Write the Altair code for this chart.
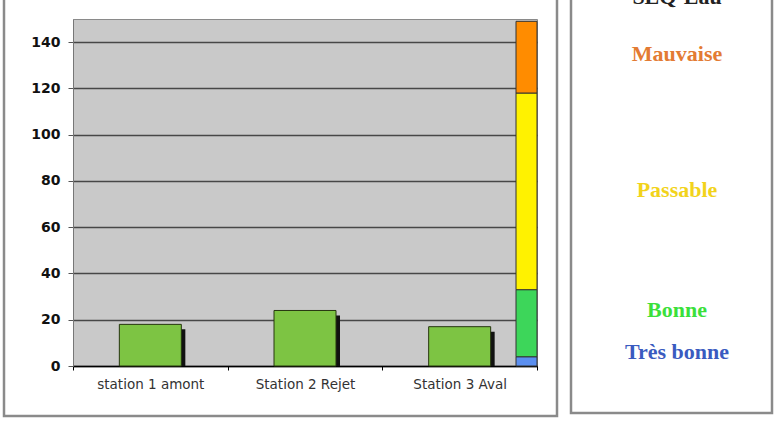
import altair as alt
import pandas as pd

# ---- data ----
stations = ["station 1 amont", "Station 2 Rejet", "Station 3 Aval"]
values = [18, 24, 17]

classes = ["Très bonne", "Bonne", "Passable", "Mauvaise"]
class_low = [0, 4, 33, 118]
class_high = [4, 33, 118, 149]
class_colors = ["#5B8FF0", "#3DD65A", "#FFF200", "#FF8C00"]

label_pos = [6, 24, 76, 135]
label_colors = ["#3A5BC0", "#3BE03B", "#F2D31B", "#E37B33"]

y_ticks = [0, 20, 40, 60, 80, 100, 120, 140]

bars_df = pd.DataFrame({"station": stations, "value": values})
classes_df = pd.DataFrame({"classe": classes, "low": class_low, "high": class_high, "color": class_colors})
labels_df = pd.DataFrame({"classe": classes, "pos": label_pos, "color": label_colors})
one = pd.DataFrame({"a": [0]})

x_enc = alt.X(
    "station:N", sort=stations,
    scale=alt.Scale(paddingInner=0, paddingOuter=0),
    axis=alt.Axis(title=None, labelAngle=0, tickBand="extent", tickSize=4, tickColor="#000",
                  domainColor="#000", domainWidth=1.5, labelFont="DejaVu Sans", labelFontSize=13.5,
                  labelColor="#333", labelPadding=7, grid=False),
)
y_scale = alt.Scale(domain=[0, 150], nice=False)
y_enc = alt.Y(
    "value:Q", scale=y_scale,
    axis=alt.Axis(title=None, values=y_ticks, grid=True, gridColor="#474747", gridWidth=1.6,
                  labelFont="DejaVu Sans", labelFontWeight="bold", labelFontSize=14, labelColor="#111",
                  tickSize=5, tickColor="#555", domainColor="#777", labelPadding=8),
)

base = alt.Chart(bars_df)
shadow = base.mark_bar(size=62, color="#111111", xOffset=4, yOffset=5).encode(
    x=x_enc, y=y_enc, y2=alt.datum(0)
)
bars = base.mark_bar(size=62, color="#7DC443", stroke="#26360f", strokeWidth=1).encode(
    x=x_enc, y=y_enc, y2=alt.datum(0)
)

scale_bar = alt.Chart(classes_df).mark_rect(stroke="#333", strokeWidth=1).encode(
    x=alt.value(443), x2=alt.value(464),
    y=alt.Y("low:Q", scale=y_scale), y2="high:Q",
    fill=alt.Color("color:N", scale=None),
)

labels = alt.Chart(labels_df).mark_text(
    font="Liberation Serif", fontWeight="bold", fontSize=22, align="center", baseline="middle"
).encode(
    x=alt.value(604), y=alt.Y("pos:Q", scale=y_scale), text="classe:N",
    color=alt.Color("color:N", scale=None),
)

title_right = alt.Chart(one).mark_text(
    font="Liberation Serif", fontWeight="bold", fontSize=22, align="center", baseline="alphabetic",
    color="#222"
).encode(x=alt.value(604), y=alt.value(-15), text=alt.value("SEQ-Eau"))

left_panel = alt.Chart(one).mark_rect(filled=False, stroke="#8a8a8a", strokeWidth=2.5).encode(
    x=alt.value(-69), x2=alt.value(484), y=alt.value(-30), y2=alt.value(397)
)
right_panel = alt.Chart(one).mark_rect(filled=False, stroke="#8a8a8a", strokeWidth=2.5).encode(
    x=alt.value(498), x2=alt.value(699), y=alt.value(-30), y2=alt.value(394)
)

chart = alt.layer(left_panel, right_panel, shadow, bars, scale_bar, labels, title_right).properties(
    width=464, height=347,
    autosize=alt.AutoSizeParams(type="none"),
    padding={"left": 73, "top": 19, "right": 242, "bottom": 60},
    background="white",
).configure_view(fill="#C9C9C9", stroke="#8a8a8a", strokeWidth=1)

chart.save("out.html", embed_options={"renderer": "svg", "actions": False})
